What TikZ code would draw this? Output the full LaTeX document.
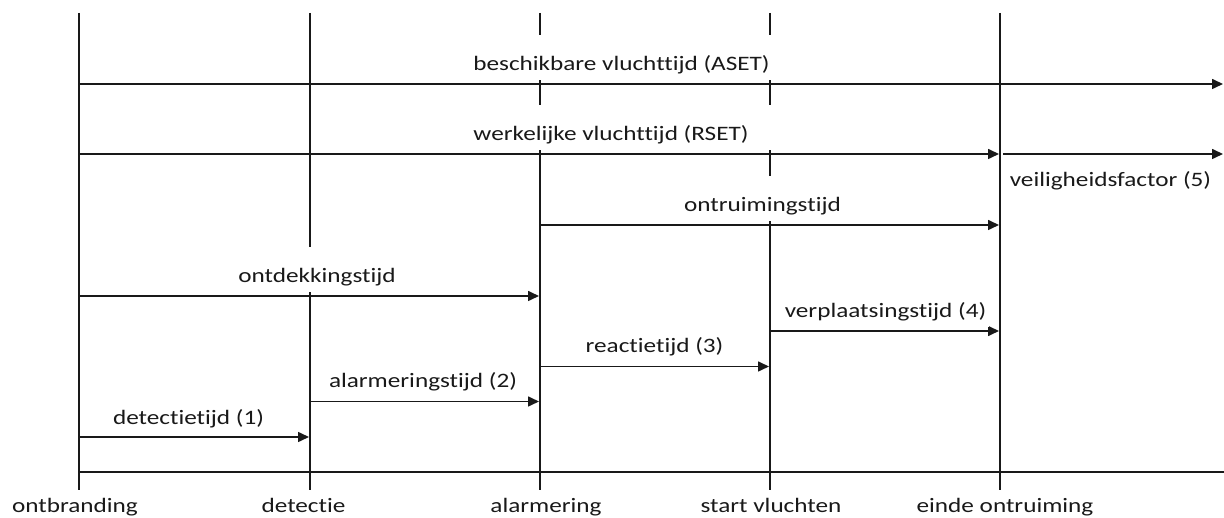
\documentclass[tikz,border=0pt]{standalone}
\usepackage{fontspec}
\setmainfont{Carlito}[FakeStretch=1.23,Ligatures=NoCommon]
\usetikzlibrary{arrows.meta}
\begin{document}
\begin{tikzpicture}[x=1pt,y=-1pt,line width=1.6pt,
  tline/.style={draw=black!90},
  arr/.style={draw=black!90,-{Triangle[length=11pt,width=10pt]}},
  txt/.style={inner sep=0pt,anchor=base,font=\fontsize{20.5}{24}\selectfont,text=black!90},
  lbl/.style={txt,fill=white,inner xsep=3pt,inner ysep=0pt,text height=35pt,text depth=10pt}]
\useasboundingbox (0,0) rectangle (1224,518);
% time points (top and bottom of each vertical line)
\foreach \n/\x in {0/79,1/310,2/540,3/770,4/1000}{
  \coordinate (top\n) at (\x,13);
  \coordinate (bot\n) at (\x,490);
}
\foreach \n in {0,...,4}{\draw[tline] (top\n) -- (bot\n);}
% base line
\coordinate (baseL) at (79,472);
\coordinate (baseR) at (1224,472);
\draw[tline] (baseL) -- (baseR);
% arrow end points
\coordinate (asetS) at (79,84);   \coordinate (asetE) at (1223,84);
\coordinate (rsetS) at (79,154);  \coordinate (rsetE) at (999,154);
\coordinate (veilS) at (1003,154);\coordinate (veilE) at (1223,154);
\coordinate (ontrS) at (540,225); \coordinate (ontrE) at (999,225);
\coordinate (ontdS) at (79,296);  \coordinate (ontdE) at (539,296);
\coordinate (verpS) at (770,331); \coordinate (verpE) at (999,331);
\coordinate (reacS) at (540,366.5); \coordinate (reacE) at (769,366.5);
\coordinate (alarS) at (310,401.5); \coordinate (alarE) at (539,401.5);
\coordinate (detS) at (79,437);   \coordinate (detE) at (309,437);
\foreach \a in {aset,rset,veil,ontr,ontd,verp,reac,alar,det}{\draw[arr] (\a S) -- (\a E);}
% labels
\node[lbl] (lAset) at (621.5,70.5) {beschikbare vluchttijd (ASET)};
\node[lbl,inner xsep=22pt] (lRset) at (611,140.5) {werkelijke vluchttijd (RSET)};
\node[txt,anchor=base west] (lVeil) at (1009,187) {veiligheidsfactor (5)};
\node[lbl] (lOntr) at (762.5,211.5) {ontruimingstijd};
\node[lbl] (lOntd) at (317,282.5) {ontdekkingstijd};
\node[lbl] (lVerp) at (885.5,317.5) {verplaatsingstijd (4)};
\node[lbl] (lReac) at (654.5,353) {reactietijd (3)};
\node[lbl] (lAlar) at (423,388) {alarmeringstijd (2)};
\node[lbl] (lDet) at (188.5,425) {detectietijd (1)};
% event names
\node[txt] (eOnt) at (75,512) {ontbranding};
\node[txt] (eDet) at (303.5,512) {detectie};
\node[txt] (eAlar) at (546,512) {alarmering};
\node[txt] (eStart) at (771,512) {start vluchten};
\node[txt] (eEinde) at (1005,512) {einde ontruiming};
\end{tikzpicture}
\end{document}
